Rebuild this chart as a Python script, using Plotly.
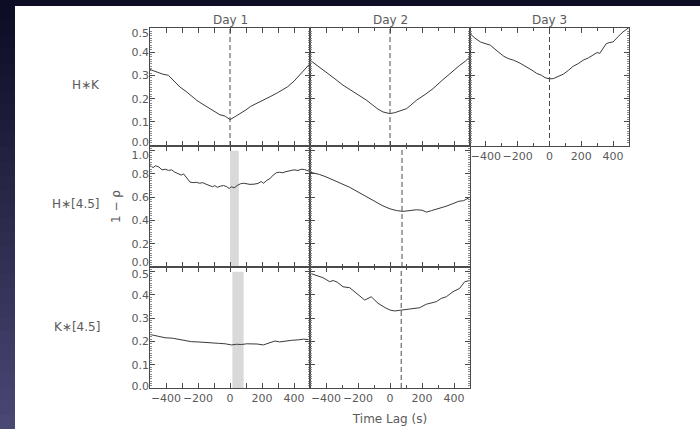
import plotly.graph_objects as go

# ---------------- data ----------------
lag_d1_hk = [-500,-460,-420,-385,-350,-313,-271,-240,-208,-175,-146,-105,-63,-30,0,30,67,100,129,170,213,255,296,330,358,400,442,475,500]
val_d1_hk = [0.325,0.315,0.305,0.300,0.275,0.250,0.229,0.210,0.193,0.178,0.165,0.148,0.131,0.125,0.110,0.122,0.137,0.152,0.167,0.180,0.195,0.210,0.225,0.238,0.250,0.275,0.305,0.330,0.350]

lag_d2_hk = [-500,-450,-398,-350,-294,-240,-190,-150,-107,-75,-44,-2,30,61,103,130,165,220,269,320,373,400,436,470,500]
val_d2_hk = [0.365,0.340,0.315,0.288,0.258,0.235,0.215,0.195,0.172,0.155,0.143,0.136,0.140,0.146,0.157,0.172,0.193,0.218,0.243,0.275,0.308,0.322,0.343,0.360,0.380]

lag_d3_hk = [-500,-470,-434,-400,-372,-330,-288,-260,-226,-185,-143,-110,-80,-50,-28,0,24,55,87,120,149,180,212,245,274,300,316,340,357,380,399,430,462,500]
val_d3_hk = [0.479,0.460,0.443,0.435,0.429,0.405,0.382,0.372,0.365,0.352,0.336,0.322,0.308,0.300,0.290,0.285,0.286,0.295,0.305,0.322,0.339,0.350,0.365,0.375,0.386,0.398,0.394,0.420,0.436,0.441,0.443,0.465,0.486,0.505]

lag_d1_h45 = [-500,-480,-465,-445,-425,-405,-385,-365,-345,-325,-305,-290,-270,-250,-230,-210,-190,-170,-150,-130,-110,-95,-80,-60,-40,-20,-5,10,25,45,65,85,105,125,150,175,195,210,230,250,270,290,310,330,350,375,400,425,445,465,485,500]
val_d1_h45 = [0.870,0.855,0.870,0.860,0.835,0.840,0.830,0.835,0.815,0.805,0.790,0.800,0.760,0.730,0.725,0.728,0.720,0.725,0.712,0.700,0.690,0.700,0.685,0.695,0.700,0.690,0.675,0.690,0.680,0.700,0.715,0.720,0.715,0.710,0.712,0.718,0.735,0.720,0.745,0.760,0.790,0.810,0.815,0.810,0.820,0.830,0.835,0.830,0.840,0.838,0.825,0.820]

lag_d2_h45 = [-500,-470,-440,-400,-356,-300,-252,-200,-148,-100,-44,0,40,81,120,165,200,228,260,311,350,394,430,460,488,500]
val_d2_h45 = [0.815,0.805,0.795,0.775,0.750,0.715,0.685,0.645,0.605,0.565,0.525,0.500,0.485,0.478,0.482,0.492,0.488,0.472,0.485,0.505,0.522,0.545,0.565,0.570,0.590,0.600]

lag_d1_k45 = [-500,-450,-406,-360,-323,-280,-240,-200,-156,-110,-73,-30,10,40,73,105,135,170,208,245,281,310,344,385,427,460,490,500]
val_d1_k45 = [0.230,0.222,0.216,0.214,0.210,0.203,0.199,0.198,0.195,0.193,0.192,0.190,0.185,0.188,0.187,0.190,0.190,0.189,0.185,0.195,0.202,0.198,0.202,0.205,0.207,0.210,0.208,0.212]

lag_d2_k45 = [-500,-460,-419,-377,-355,-330,-294,-252,-200,-158,-117,-75,-30,0,29,81,130,185,227,260,290,320,352,394,435,467,500]
val_d2_k45 = [0.493,0.482,0.474,0.457,0.462,0.455,0.435,0.431,0.400,0.378,0.392,0.364,0.345,0.335,0.331,0.335,0.340,0.345,0.360,0.365,0.371,0.385,0.392,0.414,0.428,0.457,0.462]

day_titles = ["Day 1", "Day 2", "Day 3"]
row_labels = ["H\u2217K", "H\u2217[4.5]", "K\u2217[4.5]"]
x_ticks = [-400, -200, 0, 200, 400]
# y tick labels per row (IDL nudges the edge labels inward)
ytick_text = [["0.0", "0.1", "0.2", "0.3", "0.4", "0.5"],
              ["0.0", "0.2", "0.4", "0.6", "0.8", "1.0"],
              ["0.0", "0.1", "0.2", "0.3", "0.4", "0.5"]]
ytick_pos = [[0.014, 0.1, 0.2, 0.3, 0.4, 0.482],
             [0.039, 0.2, 0.4, 0.6, 0.8, 0.963],
             [0.006, 0.1, 0.2, 0.3, 0.4, 0.490]]

peak_lag = {"r1c1": 0, "r1c2": 0, "r1c3": 0, "r2c2": 75, "r3c2": 70}
bands = [("r2c1", 0, 55, 1.0), ("r3c1", 15, 85, 0.5)]

# ---------------- layout geometry ----------------
W, H = 700, 429
ML, MR, MT, MB = 150, 71, 28, 41
PW, PH = W - ML - MR, H - MT - MB

def xp(px):
    return (px - ML) / PW

def yp(py):
    return (H - MB - py) / PH

col_dom = [[xp(150), xp(310)], [xp(310), xp(470)], [xp(470), 1.0]]
row_dom = [[yp(146), 1.0], [yp(267), yp(146)], [0.0, yp(267)]]
row_range = [[-0.003, 0.503], [0, 1.04], [0, 0.52]]
row_dtick = [0.1, 0.2, 0.1]
row_minor = [0.01, 0.02, 0.01]

panels = [
    ("r1c1", 0, 0, lag_d1_hk, val_d1_hk),
    ("r1c2", 0, 1, lag_d2_hk, val_d2_hk),
    ("r1c3", 0, 2, lag_d3_hk, val_d3_hk),
    ("r2c1", 1, 0, lag_d1_h45, val_d1_h45),
    ("r2c2", 1, 1, lag_d2_h45, val_d2_h45),
    ("r3c1", 2, 0, lag_d1_k45, val_d1_k45),
    ("r3c2", 2, 1, lag_d2_k45, val_d2_k45),
]
xlabel_panels = {"r1c3", "r3c1", "r3c2"}

AX = "#4a4a4a"
MINOR = "#8a8a8a"
TXT = "#5a5a5a"
FONT = "DejaVu Sans"
DARK = "#0d0d26"

fig = go.Figure()
layout = dict(
    width=W, height=H,
    margin=dict(l=ML, r=MR, t=MT, b=MB, pad=0, autoexpand=False),
    paper_bgcolor=DARK, plot_bgcolor="white",
    showlegend=False,
    font=dict(family=FONT, size=12, color=TXT),
)
shapes = []
annotations = []
ids = {}

# white slide area and left gradient strip
shapes.append(dict(type="rect", xref="paper", yref="paper", x0=xp(15), x1=xp(702),
                   y0=yp(431), y1=yp(6), fillcolor="white", line=dict(width=0), layer="below"))
NS = 30
for k in range(NS):
    t = k / (NS - 1)
    r_ = int(13 + (72 - 13) * t)
    g_ = int(13 + (72 - 13) * t)
    b_ = int(38 + (115 - 38) * t)
    y0 = 6 + (H - 6) * k / NS
    y1 = 6 + (H - 6) * (k + 1) / NS + 0.6
    shapes.append(dict(type="rect", xref="paper", yref="paper", x0=xp(-1), x1=xp(15),
                       y0=yp(y1 + (2 if k == NS - 1 else 0)), y1=yp(y0), fillcolor=f"rgb({r_},{g_},{b_})",
                       line=dict(width=0), layer="below"))

common = dict(showline=True, linecolor=AX, linewidth=1, mirror="allticks", automargin=False,
              ticks="inside", tickcolor=AX, tickwidth=1, showgrid=False, zeroline=False,
              tickfont=dict(family=FONT, size=11, color=TXT))

extra = 8
for i, (name, r, c, lx, vy) in enumerate(panels):
    n = "" if i == 0 else str(i + 1)
    ids[name] = n
    fig.add_trace(go.Scatter(x=lx, y=vy, mode="lines", xaxis="x" + n, yaxis="y" + n,
                             line=dict(color="#3a3a3a", width=1), hoverinfo="skip"))
    xa = dict(common, domain=col_dom[c], range=[-500, 500], anchor="y" + n,
              tickvals=x_ticks, ticklen=5, tickangle=0, showticklabels=name in xlabel_panels,
              minor=dict(ticks="inside", ticklen=3, tickcolor=AX, dtick=100, tick0=0))
    ya = dict(common, domain=row_dom[r], range=row_range[r], anchor="x" + n,
              dtick=row_dtick[r], tick0=0, ticklen=5, showticklabels=False,
              minor=dict(ticks="inside", ticklen=2, tickcolor=MINOR, dtick=row_minor[r], tick0=0))
    if name == "r3c2":
        xa["title"] = dict(text="Time Lag (s)", standoff=10, font=dict(family=FONT, size=12, color=TXT))
    layout["xaxis" + n] = xa
    layout["yaxis" + n] = ya
    if c == 0:
        fig.add_trace(go.Scatter(x=[None], y=[None], xaxis="x" + n, yaxis="y" + str(extra),
                                 showlegend=False, hoverinfo="skip"))
        layout["yaxis" + str(extra)] = dict(
            overlaying="y" + n, anchor="x" + n, side="left", range=row_range[r], automargin=False,
            tickvals=ytick_pos[r], ticktext=ytick_text[r], ticks="", showline=False,
            showgrid=False, zeroline=False, tickfont=dict(family=FONT, size=11, color=TXT))
        extra += 1

for (name, lo, hi, yhi) in bands:
    n = ids[name]
    shapes.append(dict(type="rect", xref="x" + n, yref="y" + n, x0=lo, x1=hi, y0=0, y1=yhi,
                       fillcolor="#d9d9d9", line=dict(width=0), layer="below"))
for name, lag in peak_lag.items():
    n = ids[name]
    shapes.append(dict(type="line", xref="x" + n, yref="y" + n + " domain", x0=lag, x1=lag,
                       y0=0, y1=1, line=dict(color=AX, width=1, dash="5px,3px")))

col_center = [230, 390, 549.5]
for c, t in enumerate(day_titles):
    annotations.append(dict(text=t, xref="paper", yref="paper", x=xp(col_center[c]), y=yp(20),
                            showarrow=False, xanchor="center", yanchor="middle",
                            font=dict(family=FONT, size=12, color=TXT)))
row_center = [85, 204, 327]
for r, t in enumerate(row_labels):
    annotations.append(dict(text=t, xref="paper", yref="paper", x=xp(102), y=yp(row_center[r]),
                            showarrow=False, xanchor="right", yanchor="middle",
                            font=dict(family=FONT, size=12, color=TXT)))
annotations.append(dict(text="1 \u2212 \u03c1", xref="paper", yref="paper", x=xp(116), y=yp(207),
                        showarrow=False, textangle=-90, xanchor="center", yanchor="middle",
                        font=dict(family=FONT, size=12, color=TXT)))

layout["shapes"] = shapes
layout["annotations"] = annotations
fig.update_layout(**layout)
fig.write_html("out.html")
